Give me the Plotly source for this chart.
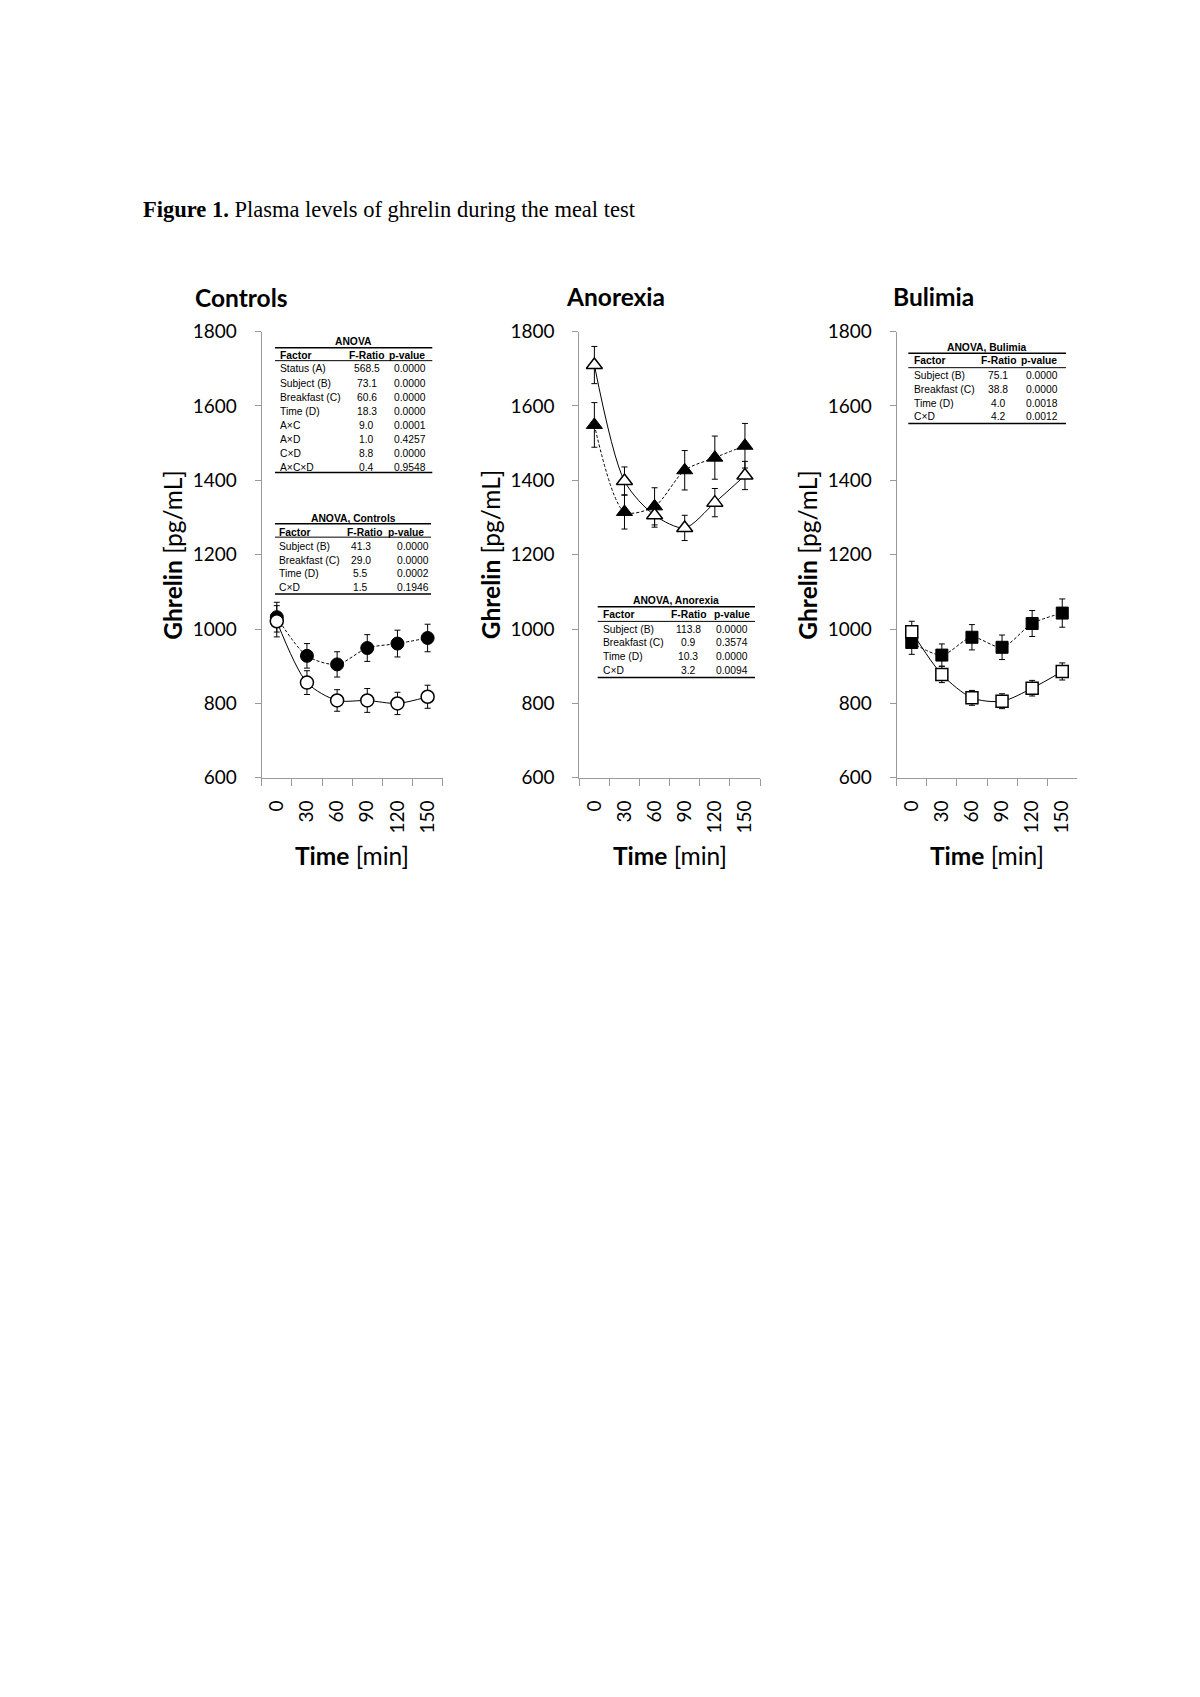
import plotly.graph_objects as go

W = 1200
H = 1669
# measured: the figure shows up 13px lower and about 1.6% squeezed vertically
TOP, SQUEEZE = 13, 0.9835

times = ["0", "30", "60", "90", "120", "150"]

# Controls
ctrl_filled = [1032, 928, 905, 949, 961, 976]
ctrl_filled_err = [40, 33, 34, 36, 36, 37]
ctrl_open = [1021, 856, 808, 808, 800, 818]
ctrl_open_err = [42, 32, 29, 32, 30, 31]

# Anorexia
ano_filled = [1549, 1315, 1330, 1427, 1461, 1493]
ano_filled_err = [60, 46, 50, 53, 58, 60]
ano_open = [1710, 1398, 1306, 1272, 1340, 1413]
ano_open_err = [50, 38, 32, 34, 38, 38]

# Bulimia
bul_filled = [964, 930, 978, 951, 1015, 1043]
bul_filled_err = [32, 30, 34, 33, 35, 38]
bul_open = [993, 878, 815, 806, 841, 886]
bul_open_err = [28, 22, 20, 20, 21, 23]

# ANOVA tables
anova_all_factor = ["Status (A)", "Subject (B)", "Breakfast (C)", "Time (D)", "A×C", "A×D", "C×D", "A×C×D"]
anova_all_f = ["568.5", "73.1", "60.6", "18.3", "9.0", "1.0", "8.8", "0.4"]
anova_all_p = ["0.0000", "0.0000", "0.0000", "0.0000", "0.0001", "0.4257", "0.0000", "0.9548"]

anova_ctrl_factor = ["Subject (B)", "Breakfast (C)", "Time (D)", "C×D"]
anova_ctrl_f = ["41.3", "29.0", "5.5", "1.5"]
anova_ctrl_p = ["0.0000", "0.0000", "0.0002", "0.1946"]

anova_ano_factor = ["Subject (B)", "Breakfast (C)", "Time (D)", "C×D"]
anova_ano_f = ["113.8", "0.9", "10.3", "3.2"]
anova_ano_p = ["0.0000", "0.3574", "0.0000", "0.0094"]

anova_bul_factor = ["Subject (B)", "Breakfast (C)", "Time (D)", "C×D"]
anova_bul_f = ["75.1", "38.8", "4.0", "4.2"]
anova_bul_p = ["0.0000", "0.0000", "0.0018", "0.0012"]


def px(x):
    return x / W


def py(y):
    return 1 - (y - TOP) / SQUEEZE / H


fig = go.Figure()

panels = [
    ("Controls", "circle", ctrl_filled, ctrl_filled_err, ctrl_open, ctrl_open_err, 261.7, 442.7, 298),
    ("Anorexia", "triangle-up", ano_filled, ano_filled_err, ano_open, ano_open_err, 579.3, 760.0, 297),
    ("Bulimia", "square", bul_filled, bul_filled_err, bul_open, bul_open_err, 896.7, 1077.3, 297),
]
title_x = [241, 615, 933]

axis_grey = "#9a9a9a"
tick_font = dict(family="Lato", size=19, color="black")
big_font = dict(family="Lato", size=24.5, color="black")
y_top, y_bot = 331.7, 776.7

annotations = []
shapes = []

for i, (name, sym, fv, fe, ov, oe, x0, x1, ty) in enumerate(panels):
    n = "" if i == 0 else str(i + 1)
    xa, ya = "x" + n, "y" + n
    msize = 13 if sym == "circle" else (14 if sym == "triangle-up" else 12)
    # filled series, dashed
    fig.add_trace(go.Scatter(
        x=times, y=fv, xaxis=xa, yaxis=ya, mode="lines+markers",
        line=dict(color="black", width=1, dash="3px,2px", shape="spline", smoothing=0.8),
        marker=dict(symbol=sym, size=msize, color="black", line=dict(color="black", width=1)),
        error_y=dict(type="data", array=fe, color="black", thickness=1, width=3),
        showlegend=False,
    ))
    # open series, solid
    fig.add_trace(go.Scatter(
        x=times, y=ov, xaxis=xa, yaxis=ya, mode="lines+markers",
        line=dict(color="black", width=1, shape="spline", smoothing=0.8),
        marker=dict(symbol=sym, size=msize, color="white", line=dict(color="black", width=1.5)),
        error_y=dict(type="data", array=oe, color="black", thickness=1, width=3),
        showlegend=False,
    ))
    fig.layout["xaxis" + n] = dict(
        domain=[px(x0), px(x1)], anchor=ya, type="category",
        categoryorder="array", categoryarray=times, range=[-0.5, 5.5],
        tickson="boundaries", ticks="outside", ticklen=7, tickcolor=axis_grey,
        showline=True, linecolor=axis_grey, linewidth=1, showgrid=False,
        tickangle=-90, tickfont=tick_font, ticklabelstandoff=14,
    )
    fig.layout["yaxis" + n] = dict(
        domain=[py(y_bot), py(y_top)], anchor=xa, range=[600, 1800], dtick=200,
        ticks="outside", ticklen=6, tickcolor=axis_grey,
        showline=True, linecolor=axis_grey, linewidth=1, showgrid=False, zeroline=False,
        tickfont=tick_font, ticklabelstandoff=14,
    )
    cx = (x0 + x1) / 2
    annotations.append(dict(
        text="<b>" + name + "</b>", x=px(title_x[i]), y=py(ty), xref="paper", yref="paper",
        xanchor="center", yanchor="middle", showarrow=False, font=big_font,
    ))
    annotations.append(dict(
        text="<b>Ghrelin</b> [pg/mL]", x=px(x0 - 88.7), y=py((y_top + y_bot) / 2),
        xref="paper", yref="paper", xanchor="center", yanchor="middle",
        textangle=-90, showarrow=False, font=big_font,
    ))
    annotations.append(dict(
        text="<b>Time</b> [min]", x=px(cx), y=py(854), xref="paper", yref="paper",
        xanchor="center", yanchor="middle", showarrow=False, font=big_font,
    ))


def add_table(title, factors, fvals, pvals, x_left, x_right, y_title, y_top_line,
              y_head, y_head_line, y_rows, y_bottom, x_factor, x_f_head, x_f, x_p_head, x_p):
    tf = dict(family="Liberation Sans", size=10.3, color="black")
    annotations.append(dict(text="<b>" + title + "</b>", x=px((x_left + x_right) / 2), y=py(y_title),
                            xref="paper", yref="paper", xanchor="center", yanchor="middle",
                            showarrow=False, font=tf))
    shapes.append(dict(type="line", xref="paper", yref="paper", x0=px(x_left), x1=px(x_right),
                       y0=py(y_top_line), y1=py(y_top_line), line=dict(color="black", width=1.5)))
    shapes.append(dict(type="line", xref="paper", yref="paper", x0=px(x_left), x1=px(x_right),
                       y0=py(y_head_line), y1=py(y_head_line), line=dict(color="black", width=1)))
    shapes.append(dict(type="line", xref="paper", yref="paper", x0=px(x_left), x1=px(x_right),
                       y0=py(y_bottom), y1=py(y_bottom), line=dict(color="black", width=1.5)))
    for txt, x, anc in [("Factor", x_factor, "left"), ("F-Ratio", x_f_head, "center"), ("p-value", x_p_head, "center")]:
        annotations.append(dict(text="<b>" + txt + "</b>", x=px(x), y=py(y_head), xref="paper", yref="paper",
                                xanchor=anc, yanchor="middle", showarrow=False, font=tf))
    for k, yr in enumerate(y_rows):
        annotations.append(dict(text=factors[k], x=px(x_factor), y=py(yr), xref="paper", yref="paper",
                                xanchor="left", yanchor="middle", showarrow=False, font=tf))
        annotations.append(dict(text=fvals[k], x=px(x_f), y=py(yr), xref="paper", yref="paper",
                                xanchor="center", yanchor="middle", showarrow=False, font=tf))
        annotations.append(dict(text=pvals[k], x=px(x_p), y=py(yr), xref="paper", yref="paper",
                                xanchor="center", yanchor="middle", showarrow=False, font=tf))


add_table("ANOVA", anova_all_factor, anova_all_f, anova_all_p, 275, 432.3, 341.7, 347.7,
          355.7, 360.7, [369 + 14 * k for k in range(8)], 472.3, 278.3, 366, 366.7, 406.7, 410)
add_table("ANOVA, Controls", anova_ctrl_factor, anova_ctrl_f, anova_ctrl_p, 275, 431, 517.7, 523.3,
          531.7, 536.7, [545.7, 559.5, 573.3, 587.2], 593.3, 276.7, 365, 360.7, 406, 412.7)
add_table("ANOVA, Anorexia", anova_ano_factor, anova_ano_f, anova_ano_p, 597.7, 755, 600, 606,
          614, 620.7, [628.3, 642.2, 656, 670], 676.7, 600.7, 688, 688.3, 731.7, 731.7)
add_table("ANOVA, Bulimia", anova_bul_factor, anova_bul_f, anova_bul_p, 908.3, 1066, 347.3, 353.3,
          360.7, 367.7, [375.3, 389.1, 403, 416.7], 423.3, 911.7, 998.3, 998.3, 1039, 1042.3)

annotations.append(dict(
    text="<b>Figure 1.</b> Plasma levels of ghrelin during the meal test",
    x=px(140.5), y=py(210), xref="paper", yref="paper", xanchor="left", yanchor="middle",
    showarrow=False, font=dict(family="Liberation Serif", size=22.5, color="black"),
))

fig.update_layout(
    width=W, height=H, margin=dict(l=0, r=0, t=0, b=0),
    paper_bgcolor="white", plot_bgcolor="white",
    annotations=annotations, shapes=shapes,
)

fig.write_html("out.html", config={"displayModeBar": False},
               post_script="document.body.style.margin='0';document.body.style.overflow='hidden';")
